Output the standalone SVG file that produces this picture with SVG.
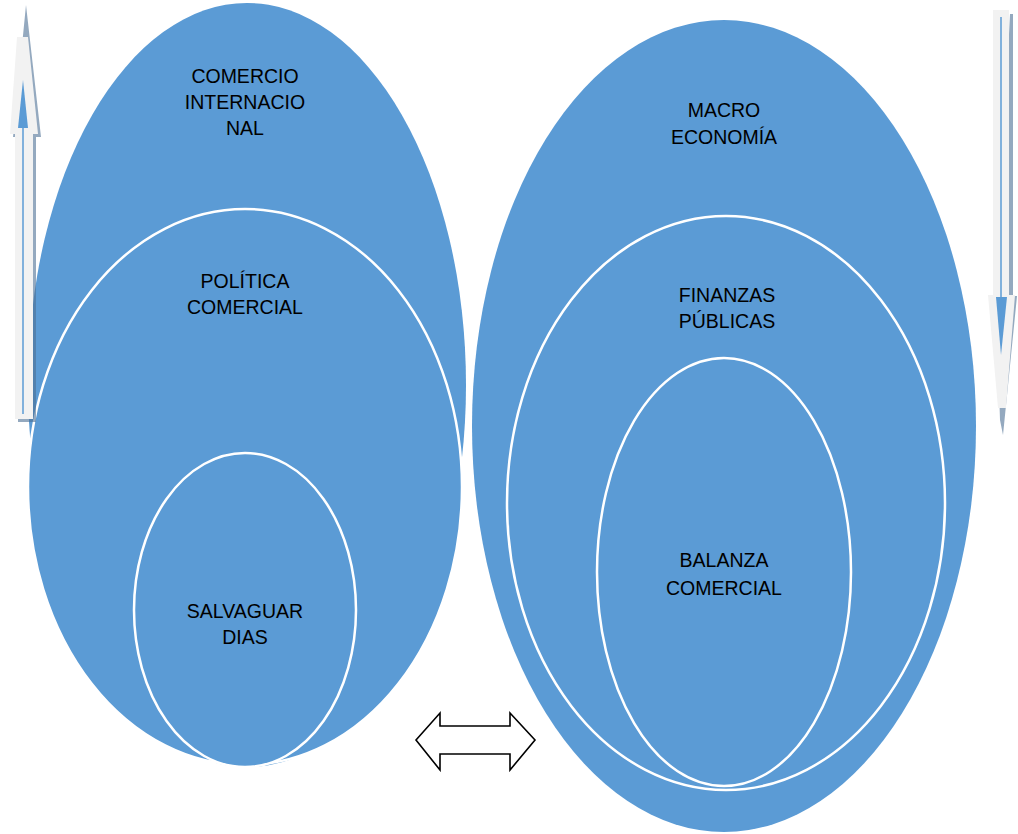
<svg xmlns="http://www.w3.org/2000/svg" width="1018" height="834" viewBox="0 0 1018 834">
<style>
.outer{fill:#5B9BD5;}
.ring{fill:#5B9BD5;stroke:#FFFFFF;stroke-width:2.5;}
.t{font-family:"Liberation Sans",Arial,sans-serif;font-size:19.5px;fill:#000;text-anchor:middle;}
.shadow{fill:#4D6F94;fill-opacity:0.6;}
.light{fill:#F2F2F2;}
.bl{stroke:#5B9BD5;stroke-width:1.5;fill:none;}
.blh{fill:#5B9BD5;}
</style>
<rect width="1018" height="834" fill="#FFFFFF"/>
<g id="left-outer"><ellipse class="outer" cx="247" cy="385" rx="219" ry="382"/>
<text class="t" x="245" y="83">COMERCIO</text><text class="t" x="245" y="109">INTERNACIO</text><text class="t" x="245" y="135">NAL</text></g>
<g id="left-middle"><ellipse class="ring" cx="245" cy="487" rx="217" ry="278"/>
<text class="t" x="245" y="288">POLÍTICA</text><text class="t" x="245" y="314">COMERCIAL</text></g>
<g id="left-inner"><ellipse class="ring" cx="245" cy="610" rx="111" ry="157"/>
<text class="t" x="245" y="618">SALVAGUAR</text><text class="t" x="245" y="644">DIAS</text></g>
<g id="right-outer"><ellipse class="outer" cx="724" cy="426" rx="252" ry="406"/>
<text class="t" x="724" y="117">MACRO</text><text class="t" x="724" y="144">ECONOMÍA</text></g>
<g id="right-middle"><ellipse class="ring" cx="726" cy="503" rx="219" ry="287"/>
<text class="t" x="727" y="302">FINANZAS</text><text class="t" x="727" y="328">PÚBLICAS</text></g>
<g id="right-inner"><ellipse class="ring" cx="724" cy="572" rx="127" ry="214"/>
<text class="t" x="724" y="567">BALANZA</text><text class="t" x="724" y="595">COMERCIAL</text></g>
<g id="arrow-up">
<path class="shadow" d="M26,5 L41,137 L36,137 L36,422 L18,422 L18,137 L13,137 Z"/>
<path class="light" d="M17,37 L28,37 L38,134 L33,134 L33,419 L15,419 L15,134 L10,134 Z"/>
<line class="bl" x1="23" y1="118" x2="23" y2="414"/>
<path class="blh" d="M23,80 L28,128 L18,128 Z"/>
</g>
<g id="arrow-down">
<path class="shadow" d="M1010,14 L1013,14 L1013,296 L1017,296 L1003,435 L1000,420 L996,296 Z"/>
<path class="light" d="M993,10 L1009,10 L1009,295 L1015,295 L1006,408 L998,408 L988,295 L993,295 Z"/>
<line class="bl" x1="1001" y1="17" x2="1001" y2="305"/>
<path class="blh" d="M996,297 L1007,297 L1001,355 Z"/>
</g>
<g id="connectors">
<path d="M416,740 L440,713 L440,726 L510,726 L510,713 L535,740 L510,770 L510,754 L440,754 L440,770 Z" fill="#FFFFFF" stroke="#000" stroke-width="1.6" stroke-linejoin="miter"/>
</g>
</svg>
